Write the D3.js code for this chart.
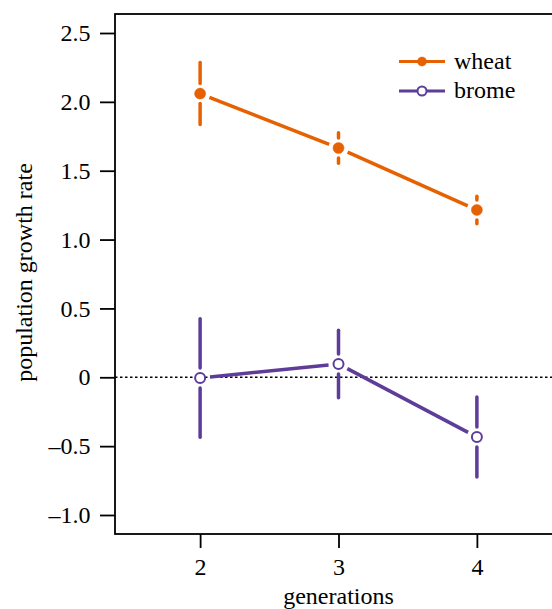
<!DOCTYPE html>
<html>
<head>
<meta charset="utf-8">
<script src="https://cdn.jsdelivr.net/npm/d3@7"></script>
</head>
<body style="margin:0;padding:0;background:#fff">
<svg id="chart" width="552" height="609" style="display:block" font-family='"Liberation Serif"'></svg>
<script>
// ---- data ----
const generations = [2, 3, 4];
const wheatMean = [2.06, 1.665, 1.215];
const wheatErr = [0.225, 0.11, 0.1];
const bromeMean = [-0.005, 0.097, -0.434];
const bromeErr = [0.43, 0.245, 0.29];
const yTicks = [-1.0, -0.5, 0, 0.5, 1.0, 1.5, 2.0, 2.5];
const xTicks = [2, 3, 4];
const seriesNames = ["wheat", "brome"];
const seriesColors = ["#e66101", "#5e3c99"];

(function () {
const svg = d3.select("#chart");
const FONT = '"Liberation Serif"';
const pLeft = 115, pRight = 562, pTop = 14, pBottom = 534;
const x = d3.scaleLinear().domain([1.385, 4.615]).range([pLeft, pRight]);
const y = d3.scaleLinear().domain([-1.138, 2.638]).range([pBottom, pTop]);
const fs = 24;

// zero line
svg.append("line")
  .attr("x1", pLeft).attr("x2", pRight)
  .attr("y1", y(0)).attr("y2", y(0))
  .attr("stroke", "#000").attr("stroke-width", 1.5)
  .attr("stroke-dasharray", "2.5,2.5");

// series
const series = [
  {name: seriesNames[0], mean: wheatMean, err: wheatErr, color: seriesColors[0], open: false},
  {name: seriesNames[1], mean: bromeMean, err: bromeErr, color: seriesColors[1], open: true}
];
const gap = 10;
series.forEach(s => {
  const g = svg.append("g");
  const pts = generations.map((gen, i) => [x(gen), y(s.mean[i])]);
  for (let i = 0; i < pts.length - 1; i++) {
    const [x1, y1] = pts[i], [x2, y2] = pts[i + 1];
    const dx = x2 - x1, dy = y2 - y1, L = Math.hypot(dx, dy);
    const ux = dx / L, uy = dy / L;
    g.append("line")
      .attr("x1", x1 + ux * gap).attr("y1", y1 + uy * gap)
      .attr("x2", x2 - ux * gap).attr("y2", y2 - uy * gap)
      .attr("stroke", s.color).attr("stroke-width", 3.5);
  }
  generations.forEach((gen, i) => {
    const cx = x(gen), cy = y(s.mean[i]);
    const yt = y(s.mean[i] + s.err[i]), yb = y(s.mean[i] - s.err[i]);
    if (cy - gap > yt) {
      g.append("line").attr("x1", cx).attr("x2", cx).attr("y1", yt).attr("y2", cy - gap)
        .attr("stroke", s.color).attr("stroke-width", 3.5).attr("stroke-linecap", "round");
    }
    if (cy + gap < yb) {
      g.append("line").attr("x1", cx).attr("x2", cx).attr("y1", cy + gap).attr("y2", yb)
        .attr("stroke", s.color).attr("stroke-width", 3.5).attr("stroke-linecap", "round");
    }
  });
  g.selectAll("circle").data(generations).join("circle")
    .attr("cx", d => x(d))
    .attr("cy", (d, i) => y(s.mean[i]))
    .attr("r", s.open ? 5 : 5.5)
    .attr("fill", s.open ? "#fff" : s.color)
    .attr("stroke", s.color)
    .attr("stroke-width", s.open ? 2 : 0.5);
});

// frame
svg.append("rect")
  .attr("x", pLeft).attr("y", pTop)
  .attr("width", pRight - pLeft).attr("height", pBottom - pTop)
  .attr("fill", "none").attr("stroke", "#000").attr("stroke-width", 1.8);

// axes
const fmt = d => d === 0 ? "0" : d3.format(".1f")(d).replace("\u2212", "\u2013").replace("-", "\u2013");
const yAxis = svg.append("g").attr("transform", `translate(${pLeft},0)`)
  .call(d3.axisLeft(y).tickValues(yTicks).tickFormat(fmt).tickSize(15).tickPadding(9.5));
const xAxis = svg.append("g").attr("transform", `translate(0,${pBottom})`)
  .call(d3.axisBottom(x).tickValues(xTicks).tickFormat(d3.format("d")).tickSize(14).tickPadding(10));
[yAxis, xAxis].forEach(a => {
  a.attr("font-family", FONT).attr("font-size", fs);
  a.select(".domain").remove();
  a.selectAll(".tick line").attr("stroke", "#000").attr("stroke-width", 1.8);
  a.selectAll(".tick text").attr("fill", "#000").attr("font-family", FONT).attr("font-size", fs);
});

// axis titles
svg.append("text")
  .attr("transform", `translate(32,272.5) rotate(-90)`)
  .attr("text-anchor", "middle")
  .attr("font-family", FONT).attr("font-size", fs)
  .text("population growth rate");
svg.append("text")
  .attr("x", x(3)).attr("y", 604)
  .attr("text-anchor", "middle")
  .attr("font-family", FONT).attr("font-size", fs)
  .text("generations");

// legend
const leg = svg.append("g");
series.forEach((s, i) => {
  const ly = 61.5 + i * 29.5;
  leg.append("line").attr("x1", 399).attr("x2", 445).attr("y1", ly).attr("y2", ly)
    .attr("stroke", s.color).attr("stroke-width", 3);
  leg.append("circle").attr("cx", 422).attr("cy", ly).attr("r", 4.5)
    .attr("fill", s.open ? "#fff" : s.color).attr("stroke", s.color).attr("stroke-width", s.open ? 2 : 0.5);
  leg.append("text").attr("x", 454).attr("y", ly + 7)
    .attr("font-family", FONT).attr("font-size", fs).text(s.name);
});
})();
</script>
</body>
</html>
